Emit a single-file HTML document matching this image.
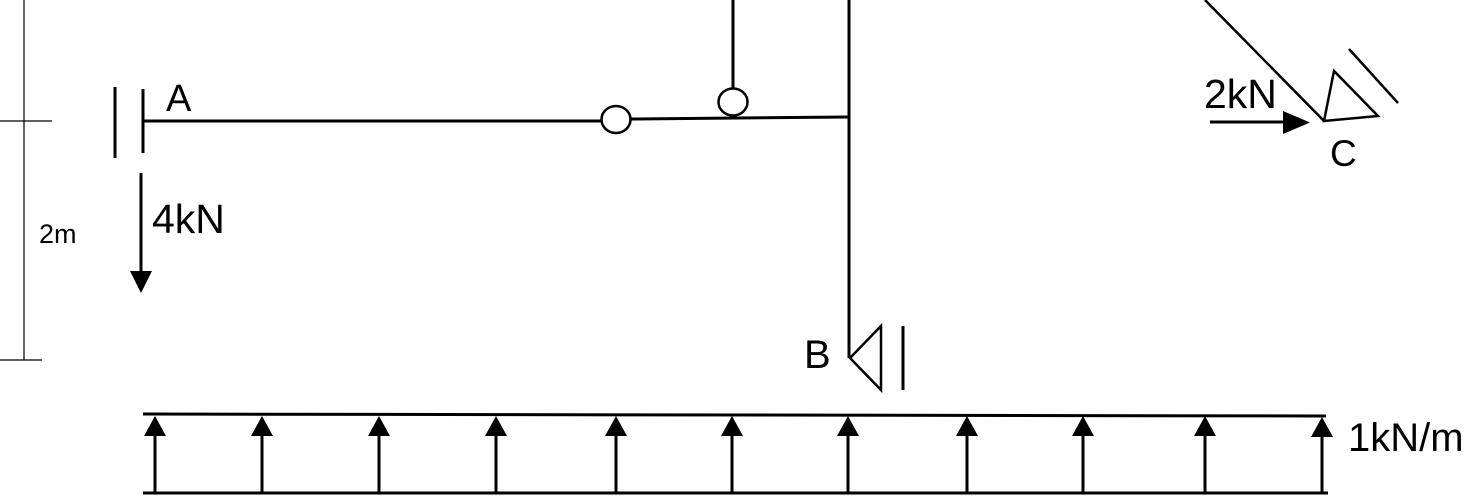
<!DOCTYPE html>
<html><head><style>html,body{margin:0;padding:0;background:#fff;}svg{display:block}</style></head>
<body>
<svg width="1466" height="496" viewBox="0 0 1466 496" xmlns="http://www.w3.org/2000/svg" font-family="Liberation Sans, sans-serif">
<g stroke="#000" fill="none">
<line x1="24" y1="0" x2="24" y2="360" stroke-width="1.2"/>
<line x1="0" y1="121" x2="52" y2="121" stroke-width="1.2"/>
<line x1="0" y1="360" x2="42" y2="360" stroke-width="1.2"/>
<line x1="115" y1="87" x2="115" y2="158" stroke-width="3"/>
<line x1="143" y1="89" x2="143" y2="153" stroke-width="3"/>
<line x1="143" y1="121" x2="602" y2="121" stroke-width="3"/>
<line x1="141" y1="173" x2="141" y2="275" stroke-width="3"/>
<ellipse cx="616" cy="119.5" rx="14.5" ry="13.5" stroke-width="2.5"/>
<line x1="631" y1="119" x2="849" y2="117" stroke-width="3"/>
<ellipse cx="733" cy="102" rx="14.5" ry="13.5" stroke-width="2.5"/>
<line x1="733" y1="0" x2="733" y2="89" stroke-width="3"/>
<line x1="849" y1="0" x2="849" y2="358" stroke-width="3"/>
<polygon points="850,358 881,326 881,390" stroke-width="2.5"/>
<line x1="903" y1="326" x2="903" y2="390" stroke-width="3"/>
<line x1="1205" y1="0" x2="1324" y2="121" stroke-width="2.5"/>
<polygon points="1324,121 1334,71 1378,116" stroke-width="2.5"/>
<line x1="1349" y1="49" x2="1398" y2="103" stroke-width="2.5"/>
<line x1="1210" y1="122" x2="1290" y2="122" stroke-width="3"/>
<line x1="143" y1="414" x2="1326" y2="416" stroke-width="3"/>
<line x1="143" y1="493" x2="1328" y2="493" stroke-width="3"/>
</g>
<g fill="#000">
<polygon points="130,271 152,271 141,293"/>
<polygon points="1283,111 1283,134 1310,122.5"/>
</g>
<g stroke="#000" stroke-width="3">
<line x1="155" y1="430" x2="155" y2="493"/><line x1="262" y1="430" x2="262" y2="493"/><line x1="379" y1="430" x2="379" y2="493"/><line x1="496" y1="430" x2="496" y2="493"/><line x1="616" y1="430" x2="616" y2="493"/><line x1="732" y1="430" x2="732" y2="493"/><line x1="848" y1="430" x2="848" y2="493"/><line x1="967" y1="430" x2="967" y2="493"/><line x1="1083" y1="430" x2="1083" y2="493"/><line x1="1205" y1="430" x2="1205" y2="493"/><line x1="1322" y1="430" x2="1322" y2="493"/>
</g>
<g fill="#000">
<polygon points="155,416 144,436 166,436"/><polygon points="262,416 251,436 273,436"/><polygon points="379,416 368,436 390,436"/><polygon points="496,416 485,436 507,436"/><polygon points="616,416 605,436 627,436"/><polygon points="732,416 721,436 743,436"/><polygon points="848,416 837,436 859,436"/><polygon points="967,416 956,436 978,436"/><polygon points="1083,416 1072,436 1094,436"/><polygon points="1205,416 1194,436 1216,436"/><polygon points="1322,417 1311,437 1333,437"/>
</g>
<g fill="#000">
<text x="39" y="243" font-size="27">2m</text>
<text x="166" y="111" font-size="38">A</text>
<text x="152" y="233" font-size="41">4kN</text>
<text x="804" y="368" font-size="40">B</text>
<text x="1204" y="108" font-size="41">2kN</text>
<text x="1330" y="166" font-size="37">C</text>
<text x="1348" y="451" font-size="40">1kN/m</text>
</g>
</svg>
</body></html>
